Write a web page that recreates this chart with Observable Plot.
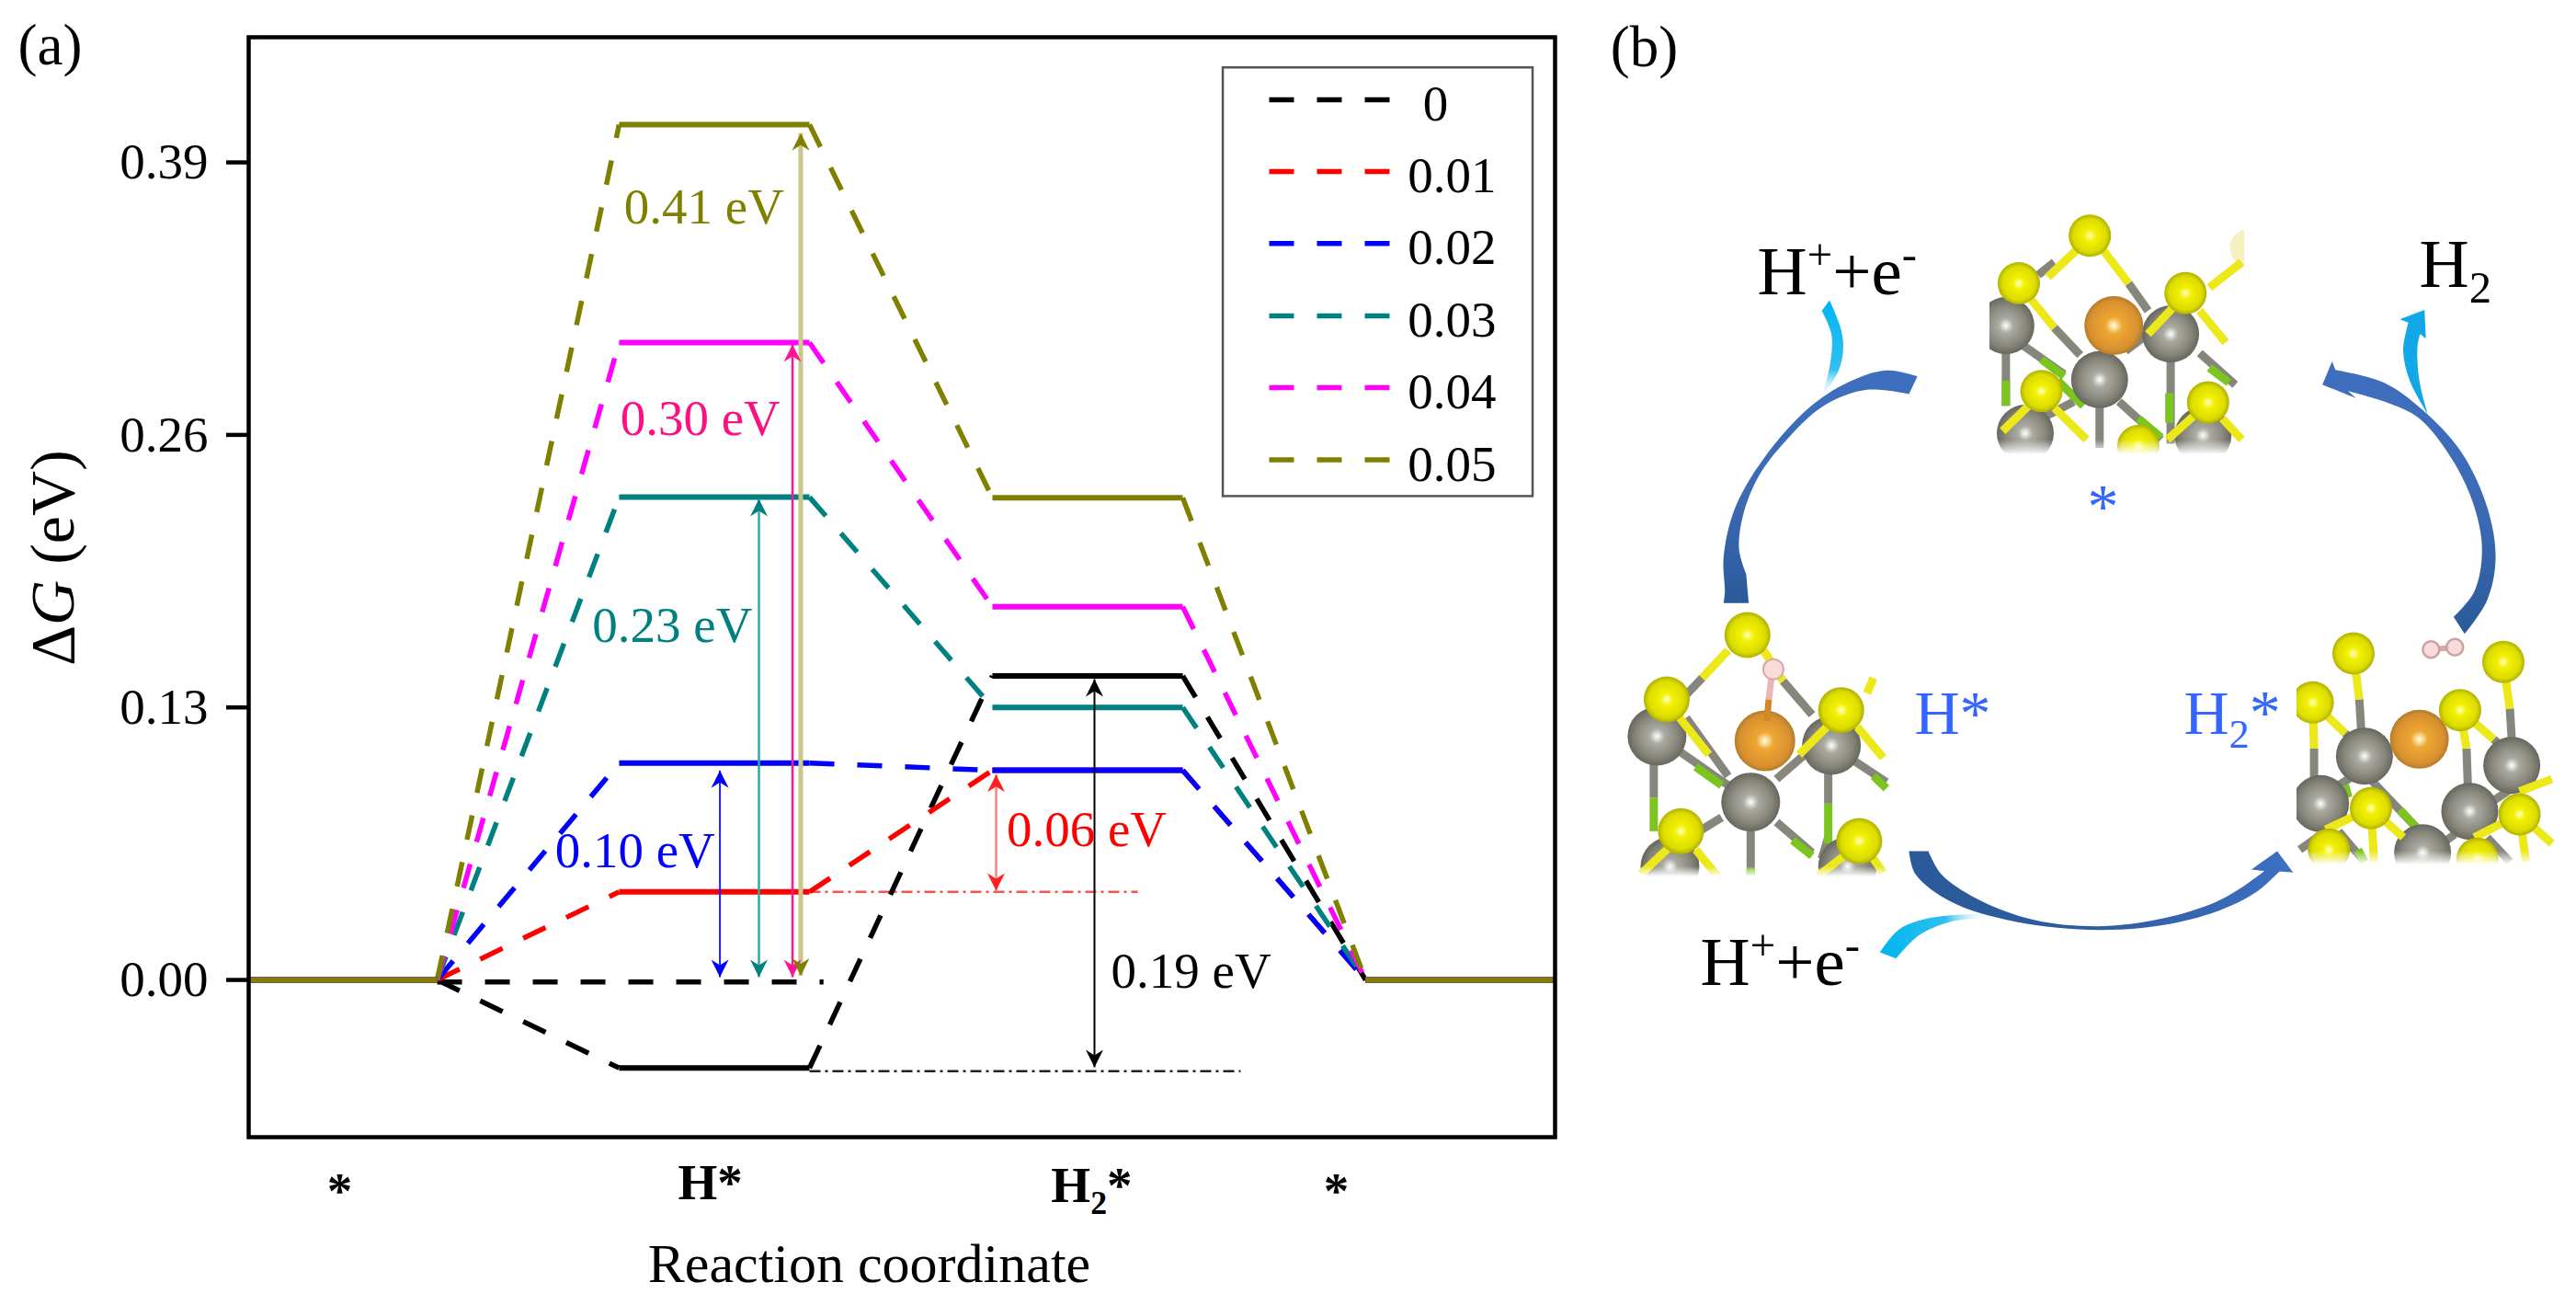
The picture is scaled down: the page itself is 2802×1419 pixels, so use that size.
<!DOCTYPE html>
<html>
<head>
<meta charset="utf-8">
<script src="https://cdn.jsdelivr.net/npm/d3@7"></script>
<script src="https://cdn.jsdelivr.net/npm/@observablehq/plot@0.6"></script>
<style>
html,body{margin:0;padding:0;background:#fff}
#page{position:relative;width:2802px;height:1419px;overflow:hidden;background:#fff}
#page svg{position:absolute;top:0;overflow:visible;background:transparent}
</style>
</head>
<body>
<div id="page"></div>
<script>
// ---------- Panel (a) data ----------
const seriesNames = ["0", "0.01", "0.02", "0.03", "0.04", "0.05"];
const seriesColours = ["#000000", "#ff0000", "#0000ff", "#008080", "#ff00ff", "#808000"];
const hStar  = [-0.042, 0.042, 0.1035, 0.2303, 0.304, 0.408];
const h2Star = [0.145, 0.100, 0.100, 0.130, 0.178, 0.230];
const stageStart = [0, 1.985, 3.985, 5.985];
const stageEnd   = [1.01, 3.005, 5.005, 7];
const yTicks = [0, 0.13, 0.26, 0.39];
const barrierLabels = ["0.41 eV", "0.30 eV", "0.23 eV", "0.10 eV", "0.06 eV", "0.19 eV"];
const barrierLabelX = [2.44, 2.42, 2.27, 2.07, 4.49, 5.05];
const barrierLabelY = [0.3686, 0.2678, 0.169, 0.0614, 0.0715, 0.004];
const barrierLabelColours = ["#808000", "#ff1080", "#008080", "#0000ff", "#ff0000", "#000000"];
const arrowX    = [2.525, 2.734, 2.914, 2.958, 4.005, 4.532];
const arrowTop  = [0.0999, 0.2295, 0.3032, 0.404, 0.098, 0.1435];
const arrowBot  = [0.0013, 0.0013, 0.0013, 0.002, 0.0426, -0.0417];
const arrowShaftColours = ["#2020ff", "#30a8a8", "#ff1493", "#c9c68e", "#ff8080", "#000000"];
const arrowHeadColours  = ["#0000ff", "#008080", "#ff1493", "#808000", "#ff2020", "#000000"];
const arrowWidths = [2, 2.5, 2.5, 5, 2.5, 2];
const stageLabels = ["*", "H*", "H2*", "*"];
const stageLabelX = [0.488, 2.473, 4.517, 5.828];
const stageLabelY = [-0.1084, -0.1044, -0.106, -0.1084];
const legendY = [0.4199, 0.3857, 0.3513, 0.3168, 0.2826, 0.2481];

const xs = i => stageStart[i], xe = i => stageEnd[i];
const levelsOf = i => [0, hStar[i], h2Star[i], 0];
const levels = seriesNames.flatMap((s, i) => levelsOf(i).map((v, k) => ({series: s, k, v, x1: xs(k), x2: xe(k)})));
const connectors = seriesNames.flatMap((s, i) => [0, 1, 2].map(k => ({
  series: s, x1: xe(k), x2: xs(k + 1), y1: levelsOf(i)[k], y2: levelsOf(i)[k + 1]
})));
const arrows = arrowX.map((x, i) => ({x, top: arrowTop[i], bot: arrowBot[i], shaft: arrowShaftColours[i], head: arrowHeadColours[i], w: arrowWidths[i]}));
const stealth = {draw(c) { c.moveTo(0, 0); c.lineTo(9.5, 19); c.lineTo(0, 13); c.lineTo(-9.5, 19); c.closePath(); }};

const colorScale = {domain: seriesNames, range: seriesColours};
const richText = {
  "\u0394G (eV)": '\u0394<tspan font-style="italic">G</tspan> (eV)',
  "H2*": 'H<tspan dy=".35em" font-size="65%">2</tspan><tspan dy="-.23em">*</tspan>',
  "H2": 'H<tspan dy=".35em" font-size="65%">2</tspan>',
  "H++e-": 'H<tspan dy="-.55em" font-size="65%">+</tspan><tspan dy=".36em">+e</tspan><tspan dy="-.55em" font-size="65%">-</tspan>'
};
function applyRich(svgNode) {
  d3.select(svgNode).selectAll("text").each(function() {
    const m = richText[this.textContent];
    if (m) this.innerHTML = m;
  });
}

const chart = Plot.plot({
  width: 1720, height: 1419,
  marginLeft: 270, marginRight: 29, marginTop: 40, marginBottom: 183,
  style: {fontFamily: "'Liberation Serif', serif", background: "transparent", color: "#000"},
  x: {domain: [0, 7], axis: null},
  y: {domain: [-0.075, 0.4497], axis: null},
  color: colorScale,
  marks: [
    Plot.axisY({ticks: yTicks, tickFormat: d3.format(".2f"), tickSize: 24, tickPadding: 20, strokeWidth: 4.5, fontSize: 55, label: null}),
    Plot.link([{x1: 3.005, x2: 4.764, y: 0.042}], {x1: "x1", x2: "x2", y1: "y", y2: "y", stroke: "#ff5050", strokeWidth: 2.5, strokeDasharray: "12,5,3,5"}),
    Plot.link([{x1: 3.005, x2: 5.315, y: -0.0435}], {x1: "x1", x2: "x2", y1: "y", y2: "y", stroke: "#222", strokeWidth: 2.5, strokeDasharray: "12,5,3,5"}),
    Plot.link([{x1: 1.01, x2: 3.08, y: -0.001}], {x1: "x1", x2: "x2", y1: "y", y2: "y", stroke: "#000", strokeWidth: 5.5, strokeDasharray: "27,25"}),
    Plot.link(connectors, {x1: "x1", x2: "x2", y1: "y1", y2: "y2", stroke: "series", strokeWidth: 5.5, strokeDasharray: "27,25"}),
    Plot.link(levels, {x1: "x1", x2: "x2", y1: "v", y2: "v", stroke: "series", strokeWidth: 6}),
    Plot.link(arrows, {x1: "x", x2: "x", y1: "bot", y2: "top", stroke: "shaft", strokeWidth: "w"}),
    Plot.dot(arrows, {x: "x", y: "top", symbol: stealth, fill: "head", stroke: "none"}),
    Plot.dot(arrows, {x: "x", y: "bot", symbol: stealth, fill: "head", stroke: "none", rotate: 180}),
    Plot.text(barrierLabels, {x: (d, i) => barrierLabelX[i], y: (d, i) => barrierLabelY[i], text: d => d, fill: (d, i) => barrierLabelColours[i], fontSize: 55, lineAnchor: "middle"}),
    Plot.text(stageLabels, {x: (d, i) => stageLabelX[i], y: (d, i) => stageLabelY[i], text: d => d, fontSize: 55, fontWeight: "bold", lineAnchor: "bottom", fill: "#000"}),
    Plot.text(["Reaction coordinate"], {x: [3.325], y: [-0.1439], text: d => d, fontSize: 60, lineAnchor: "bottom", fill: "#000"}),
    Plot.text(["\u0394G (eV)"], {x: [-1.044], y: [0.2014], text: d => d, fontSize: 68, rotate: -90, lineAnchor: "middle", fill: "#000"}),
    Plot.text(["(a)"], {x: [-1.064], y: [0.4454], text: d => d, fontSize: 63, lineAnchor: "middle", fill: "#000"}),
    // legend, inside the frame
    Plot.rect([{x1: 5.222, x2: 6.882, y1: 0.2306, y2: 0.4351}], {x1: "x1", x2: "x2", y1: "y1", y2: "y2", fill: "#fff", stroke: "#555", strokeWidth: 2.5}),
    Plot.link(seriesNames, {x1: () => 5.468, x2: () => 6.123, y1: (d, i) => legendY[i], y2: (d, i) => legendY[i], stroke: d => d, strokeWidth: 5.5, strokeDasharray: "27,25"}),
    Plot.text(seriesNames, {x: (d, i) => i === 0 ? 6.36 : 6.21, y: (d, i) => legendY[i], text: d => d, textAnchor: "start", dy: 5, fontSize: 55, lineAnchor: "middle", fill: "#000", filter: (d, i) => i > 0}),
    Plot.text(["0"], {x: [6.36], y: [legendY[0]], text: d => d, dy: 5, fontSize: 55, lineAnchor: "middle", fill: "#000"}),
    Plot.frame({stroke: "#000", strokeWidth: 4.5})
  ]
});
applyRich(chart);

// ---------- Panel (b) schematic data ----------
const c4 = ([x, y]) => [1700 + x / 1.423, y / 2.178];
const c5 = ([x, y]) => [1700 + x / 1.423, 640 + y / 3];

const swooshLeft = [[548,890],[548,890],[500,876],[440,905],[380,965],[310,1085],[265,1205],[248,1320],[250,1400],[248,1427],[248,1427],[287,1427],[287,1427],[283,1358],[283,1358],[272,1300],[278,1220],[303,1125],[346,1040],[403,960],[470,922],[535,932],[535,932]];
const swooshRight = [[1395,1500],[1395,1500],[1430,1420],[1443,1320],[1430,1200],[1390,1070],[1330,970],[1270,905],[1195,875],[1195,875],[1190,855],[1190,855],[1175,910],[1175,910],[1227,942],[1227,942],[1215,925],[1215,925],[1280,955],[1325,990],[1375,1085],[1408,1190],[1422,1300],[1410,1400],[1378,1460],[1378,1460]];
const lightLeft = [[412,710],[412,710],[430,780],[433,830],[425,880],[398,945],[398,945],[412,870],[415,790],[400,735],[400,735]];
const lightRight = [[1333,733],[1333,733],[1295,755],[1295,755],[1308,763],[1308,763],[1300,830],[1310,900],[1338,980],[1338,980],[1325,900],[1322,820],[1326,790],[1326,790],[1335,800],[1335,800]];
const swooshBottom = [[535,855],[535,855],[545,930],[600,1020],[700,1085],[830,1112],[940,1092],[1020,1045],[1075,985],[1108,922],[1108,922],[1130,925],[1130,925],[1105,855],[1105,855],[1065,915],[1065,915],[1085,920],[1085,920],[1045,980],[1000,1030],[920,1078],[830,1100],[730,1080],[640,1010],[585,930],[565,855],[565,855]];
const lightBottom = [[490,1185],[490,1185],[520,1110],[570,1072],[660,1058],[660,1058],[660,1072],[660,1072],[600,1085],[550,1130],[515,1205],[515,1205]];

// molecule "*"
const topS  = [[815,557],[705,670],[963,693],[740,925],[998,952],[890,1055]];
const topPale = [[1060,585]];
const topMo = [[685,770],[940,790],[830,898],[715,1025],[990,1030]];
const topPt = [[852,770]];
const topGrey = [[710,815,775,885],[685,800,685,960],[760,775,800,840],[875,670,905,735],[940,830,940,1050],[985,835,1040,910],[830,930,830,1060],[860,950,925,1040],[870,830,905,790],[735,650,760,620],[790,950,740,990]];
const topGreen = [[740,850,775,890],[685,900,685,960],[938,930,938,1000],[1000,870,1030,905],[890,990,925,1035],[765,900,805,960]];
const topYellow = [[795,590,750,655],[835,590,875,670],[725,710,760,775],[945,725,905,790],[985,735,1025,810],[1000,680,1050,620],[720,960,680,1020],[760,965,810,1040],[975,985,935,1040],[1020,990,1050,1040]];

// molecule "H*"
const hS  = [[285,150],[160,360],[430,395],[182,790],[458,822]];
const hMo = [[145,480],[415,510],[290,695],[165,905],[440,905]];
const hPt = [[312,495]];
const hH  = [[325,262]];
const hGrey = [[215,290,190,345],[340,300,385,410],[180,530,255,640],[140,540,140,680],[410,570,410,700],[450,560,500,630],[290,790,290,940],[330,760,385,860],[245,745,210,790],[410,810,400,880],[330,620,390,510],[190,420,255,610]];
const hGreen = [[205,580,245,640],[140,680,140,790],[410,700,410,830],[480,610,500,650],[355,820,385,870],[290,910,290,940]];
const hYellow = [[255,200,215,290],[310,200,340,300],[180,420,225,540],[410,445,365,540],[455,450,495,550],[480,290,470,340],[165,840,120,930],[205,850,240,940],[435,870,395,935],[480,880,495,925]];

// molecule "H2*"
const h2S  = [[1223,210],[1455,238],[1160,370],[1388,395],[1250,715],[1480,735],[1185,850],[1415,880]];
const h2Mo = [[1240,545],[1468,575],[1172,700],[1403,725],[1330,860]];
const h2Pt = [[1325,490]];
const h2H  = [[1343,197],[1380,190]];
const h2Grey = [[1232,360,1235,460],[1465,390,1468,490],[1162,520,1162,620],[1398,520,1400,640],[1240,600,1330,800],[1468,650,1440,690],[1200,640,1230,600],[1210,470,1225,500],[1440,490,1455,520],[1380,800,1340,860],[1180,790,1140,850],[1200,790,1240,890],[1430,810,1465,890]];
const h2Green = [[1295,720,1330,800],[1210,640,1215,680],[1230,850,1240,890]];
const h2Yellow = [[1223,210,1232,360],[1455,238,1465,390],[1160,370,1162,520],[1388,395,1398,520],[1160,370,1210,470],[1388,395,1440,490],[1250,715,1180,785],[1250,715,1255,890],[1250,715,1300,810],[1480,735,1410,810],[1480,735,1490,890],[1480,735,1530,830],[1530,620,1480,660]];

// white masks around the cropped molecule pictures, in page px
const masks = [
  [2120,2164,480,530],[2441,2470,230,530],[2164,2441,494,530],[2120,2164,230,480],
  [1745,1770,660,990],[2055,2075,660,985],[1770,2055,953,985],
  [2480,2498,670,975],[2779,2802,640,975],[2498,2779,940,975]
];
const fades = [[2164,2441,478,494],[1770,2055,942,953],[2498,2779,925,940]];

const linkRows = (arr, c) => arr.map(d => { const a = c([d[0], d[1]]), b = c([d[2], d[3]]); return {x1: a[0], y1: a[1], x2: b[0], y2: b[1]}; });
const dotRows = (arr, c) => arr.map(d => { const a = c(d); return {x: a[0], y: a[1]}; });
const bonds = (arr, c, stroke, w = 9) => Plot.link(linkRows(arr, c), {x1: "x1", y1: "y1", x2: "x2", y2: "y2", stroke, strokeWidth: w});
const atoms = (arr, c, fill, r) => Plot.dot(dotRows(arr, c), {x: "x", y: "y", r, fill, stroke: "none"});
const shape = (arr, c, fill) => Plot.line(arr.map(c), {x: "0", y: "1", fill, stroke: "none", curve: "catmull-rom"});
const molecule = (c, grey, green, yellow, mo, pt, s, rs = 23, rm = 31, rp = 32) => [
  bonds(grey, c, "#86867c"), bonds(green, c, "#7cc520"),
  atoms(mo, c, "url(#gGrey)", rm), atoms(pt, c, "url(#gOrange)", rp),
  bonds(yellow, c, "#ece81a"), atoms(s, c, "url(#gYellow)", rs)
];

function defs() {
  const ns = "http://www.w3.org/2000/svg";
  const d = document.createElementNS(ns, "defs");
  const radial = (id, stops) => d3.select(d).append("radialGradient").attr("id", id).attr("cx", "50%").attr("cy", "50%").attr("r", "52%")
    .selectAll("stop").data(stops).join("stop").attr("offset", s => s[0]).attr("stop-color", s => s[1]);
  const linear = (id, x2, y2, stops) => d3.select(d).append("linearGradient").attr("id", id).attr("x1", 0).attr("y1", 0).attr("x2", x2).attr("y2", y2)
    .selectAll("stop").data(stops).join("stop").attr("offset", s => s[0]).attr("stop-color", s => s[1]).attr("stop-opacity", s => s[2] ?? 1);
  radial("gYellow", [[0, "#ffffc0"], [0.28, "#f2f000"], [0.75, "#dcdc00"], [1, "#a8a800"]]);
  radial("gGrey", [[0, "#ffffff"], [0.25, "#aaaaa2"], [0.7, "#85857a"], [1, "#62625a"]]);
  radial("gOrange", [[0, "#ffffe0"], [0.28, "#eea632"], [0.8, "#d89030"], [1, "#a87828"]]);
  linear("gDarkV", 0, 1, [[0, "#3e6fbf"], [0.55, "#3c6ab4"], [1, "#2b5a9a"]]);
  linear("gDarkH", 1, 0, [[0, "#2b5a9a"], [0.5, "#2e5da0"], [1, "#3e70c4"]]);
  linear("gLightV", 0, 1, [[0, "#00b4f0"], [0.7, "#30c0f0"], [1, "#ffffff", 0]]);
  linear("gLightH", 1, 0, [[0, "#00b4f0"], [0.6, "#30c0f0"], [1, "#ffffff", 0]]);
  linear("gFade", 0, 1, [[0, "#ffffff", 0], [1, "#ffffff", 1]]);
  return d;
}

const panelB = Plot.plot({
  width: 1082, height: 1419,
  margin: 0,
  style: {fontFamily: "'Liberation Serif', serif", background: "transparent", color: "#000"},
  x: {domain: [1720, 2802], axis: null},
  y: {domain: [0, 1419], range: [0, 1419], axis: null},
  marks: [
    defs,
    atoms(topPale, c4, "#f4f0c0", 20),
    ...molecule(c4, topGrey, topGreen, topYellow, topMo, topPt, topS),
    ...molecule(c5, hGrey, hGreen, hYellow, hMo, hPt, hS, 25, 32, 33),
    bonds([[322,290,318,360]], c5, "#e8b8b8", 7), bonds([[318,360,315,430]], c5, "#d08828", 7),
    Plot.dot(dotRows(hH, c5), {x: "x", y: "y", r: 11, fill: "#f8dcdc", stroke: "#d8a8a8", strokeWidth: 2}),
    ...molecule(c5, h2Grey, h2Green, h2Yellow, h2Mo, h2Pt, h2S),
    bonds([[1343,197,1380,190]], c5, "#d8a8a8", 6),
    Plot.dot(dotRows(h2H, c5), {x: "x", y: "y", r: 9, fill: "#f8dcdc", stroke: "#d0a0a0", strokeWidth: 2.5}),
    Plot.rect(masks, {x1: "0", x2: "1", y1: "2", y2: "3", fill: "#fff"}),
    Plot.rect(fades, {x1: "0", x2: "1", y1: "2", y2: "3", fill: "url(#gFade)"}),
    shape(lightLeft, c4, "url(#gLightV)"),
    shape(lightRight, c4, "#12a8e8"),
    shape(swooshLeft, c4, "url(#gDarkV)"),
    shape(swooshRight, c4, "url(#gDarkV)"),
    shape(lightBottom, c5, "url(#gLightH)"),
    shape(swooshBottom, c5, "url(#gDarkH)"),
    Plot.text(["(b)"], {x: [1788], y: [51], text: d => d, fontSize: 63, lineAnchor: "middle", fill: "#000"}),
    Plot.text(["H++e-"], {x: [1911], y: [319], text: d => d, textAnchor: "start", fontSize: 75, lineAnchor: "bottom", fill: "#000"}),
    Plot.text(["H++e-"], {x: [1849], y: [1070], text: d => d, textAnchor: "start", fontSize: 75, lineAnchor: "bottom", fill: "#000"}),
    Plot.text(["H2"], {x: [2631], y: [311], text: d => d, textAnchor: "start", fontSize: 75, lineAnchor: "bottom", fill: "#000"}),
    Plot.text(["*"], {x: [2287], y: [572], text: d => d, fontSize: 68, lineAnchor: "bottom", fill: "#3366ff"}),
    Plot.text(["H*"], {x: [2082], y: [797], text: d => d, textAnchor: "start", fontSize: 68, lineAnchor: "bottom", fill: "#3366ff"}),
    Plot.text(["H2*"], {x: [2375], y: [797], text: d => d, textAnchor: "start", fontSize: 68, lineAnchor: "bottom", fill: "#3366ff"})
  ]
});
applyRich(panelB);

const page = document.getElementById("page");
chart.style.left = "0px";
panelB.style.left = "1720px";
page.append(chart, panelB);
</script>
</body>
</html>
